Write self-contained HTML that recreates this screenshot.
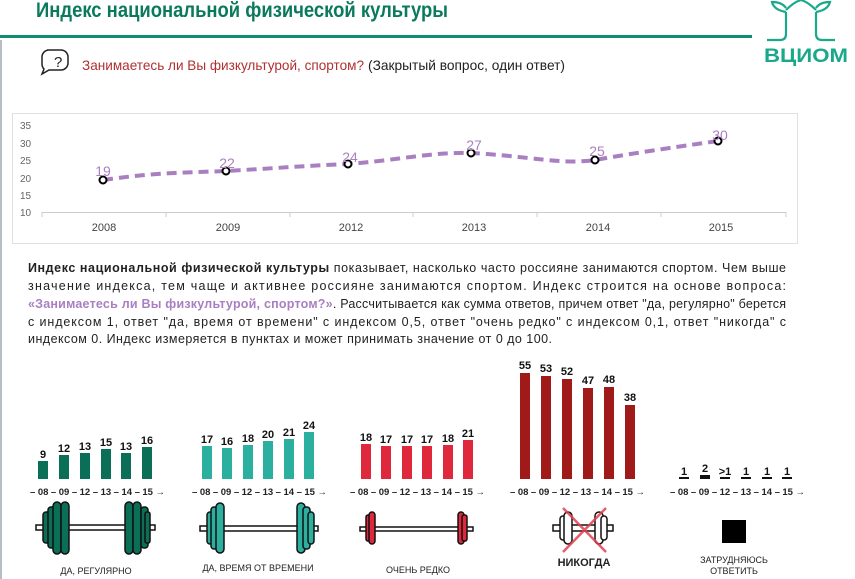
<!DOCTYPE html>
<html><head><meta charset="utf-8"><style>
body{margin:0;background:#fff;width:855px;height:579px;overflow:hidden}
svg{display:block}
text{font-family:"Liberation Sans",sans-serif}
</style></head><body>
<svg width="855" height="579" viewBox="0 0 855 579" xmlns="http://www.w3.org/2000/svg">
<rect x="0" y="40" width="2" height="539" fill="#b8bec6"/>
<text x="36" y="17" font-size="21" font-weight="bold" fill="#0b7a5c" textLength="412" lengthAdjust="spacingAndGlyphs">Индекс национальной физической культуры</text>
<rect x="0" y="35" width="752" height="3" fill="#0f8c72"/>
<!-- logo -->
<g fill="none" stroke="#1aa88a" stroke-width="2.2">
<path d="M786 12 v22 q0 6 -6 6 h-13 M816 12 v22 q0 6 6 6 h13"/>
<path d="M786 12 q-12 -2 -14 -10 q10 0 14 6 M816 12 q12 -2 14 -10 q-10 0 -14 6"/>
<path d="M786 10 q8 -8 15 -10 M816 10 q-8 -8 -15 -10"/>
</g>
<text x="764" y="62" font-size="19" font-weight="bold" fill="#1aa88a" textLength="84" lengthAdjust="spacingAndGlyphs">ВЦИОМ</text>
<!-- question -->
<path d="M47 50 h14 a7 7 0 0 1 7 7 v6 a7 7 0 0 1 -7 7 h-12 l-7 4 l2 -5 a7 7 0 0 1 -2 -5 v-7 a7 7 0 0 1 7 -7z" fill="none" stroke="#222" stroke-width="1.5"/>
<text x="54" y="67" font-size="15" fill="#222">?</text>
<text x="82" y="70" font-size="14" fill="#b03030" textLength="282" lengthAdjust="spacingAndGlyphs">Занимаетесь ли Вы физкультурой, спортом?</text>
<text x="368" y="70" font-size="14" fill="#222" textLength="197" lengthAdjust="spacingAndGlyphs">(Закрытый вопрос, один ответ)</text>
<!-- line chart -->
<rect x="12.5" y="113.5" width="785" height="130" fill="none" stroke="#dde1e5"/>
<g font-size="10" fill="#666">
<text x="20" y="129">35</text><text x="20" y="147">30</text><text x="20" y="164">25</text><text x="20" y="182">20</text><text x="20" y="199">15</text><text x="20" y="216">10</text>
</g>
<line x1="42" y1="212.5" x2="786" y2="212.5" stroke="#ccc"/>
<g stroke="#ccc"><line x1="42" y1="212" x2="42" y2="217"/><line x1="166" y1="212" x2="166" y2="217"/><line x1="290" y1="212" x2="290" y2="217"/><line x1="413" y1="212" x2="413" y2="217"/><line x1="537" y1="212" x2="537" y2="217"/><line x1="661" y1="212" x2="661" y2="217"/><line x1="786" y1="212" x2="786" y2="217"/></g>
<g font-size="11" fill="#444" text-anchor="middle">
<text x="104" y="231">2008</text><text x="228" y="231">2009</text><text x="351" y="231">2012</text><text x="474" y="231">2013</text><text x="598" y="231">2014</text><text x="721" y="231">2015</text>
</g>
<path d="M103 180 C160 172 180 173 226 171 C280 168 300 166 348 164 C400 160 430 152 471 153 C530 156 560 165 595 160 C640 152 690 145 718 141" fill="none" stroke="#a97fc2" stroke-width="4" stroke-dasharray="10 6"/>
<g fill="#fff" stroke="#000" stroke-width="2">
<circle cx="103" cy="180" r="3.5"/><circle cx="226" cy="171" r="3.5"/><circle cx="348" cy="164" r="3.5"/><circle cx="471" cy="153" r="3.5"/><circle cx="595" cy="160" r="3.5"/><circle cx="718" cy="141" r="3.5"/>
</g>
<g font-size="14" fill="#a97fc2" text-anchor="middle">
<text x="103" y="176">19</text><text x="227" y="168">22</text><text x="350" y="162">24</text><text x="474" y="150">27</text><text x="597" y="156">25</text><text x="720" y="140">30</text>
</g>
<!-- paragraph -->
<g font-size="12.5" fill="#222">
<text x="28" y="272" textLength="758" lengthAdjust="spacing"><tspan font-weight="bold">Индекс национальной физической культуры</tspan> показывает, насколько часто россияне занимаются спортом. Чем выше</text>
<text x="28" y="290" textLength="758" lengthAdjust="spacing">значение индекса, тем чаще и активнее россияне занимаются спортом. Индекс строится на основе вопроса:</text>
<text x="28" y="308" textLength="758" lengthAdjust="spacing"><tspan fill="#a97fc2" font-weight="bold">«Занимаетесь ли Вы физкультурой, спортом?»</tspan>. Рассчитывается как сумма ответов, причем ответ "да, регулярно" берется</text>
<text x="28" y="326" textLength="758" lengthAdjust="spacing">с индексом 1, ответ "да, время от времени" с индексом 0,5, ответ "очень редко" с индексом 0,1, ответ "никогда" с</text>
<text x="28" y="343" textLength="524" lengthAdjust="spacing">индексом 0. Индекс измеряется в пунктах и может принимать значение от 0 до 100.</text>
</g>
<!-- bars -->
<g fill="#0b6e57"><rect x="38" y="461" width="10" height="18"/><rect x="59" y="455" width="10" height="24"/><rect x="80" y="453" width="10" height="26"/><rect x="101" y="449" width="10" height="30"/><rect x="121" y="453" width="10" height="26"/><rect x="142" y="447" width="10" height="32"/></g>
<g fill="#2bb0a0"><rect x="202" y="446" width="10" height="33"/><rect x="222" y="448" width="10" height="31"/><rect x="243" y="445" width="10" height="34"/><rect x="263" y="441" width="10" height="38"/><rect x="284" y="439" width="10" height="40"/><rect x="304" y="432" width="10" height="47"/></g>
<g fill="#e0283c"><rect x="361" y="444" width="10" height="35"/><rect x="381" y="446" width="10" height="33"/><rect x="402" y="446" width="10" height="33"/><rect x="422" y="446" width="10" height="33"/><rect x="443" y="445" width="10" height="34"/><rect x="463" y="440" width="10" height="39"/></g>
<g fill="#a01a1a"><rect x="520" y="373" width="10" height="106"/><rect x="541" y="376" width="10" height="103"/><rect x="562" y="379" width="10" height="100"/><rect x="583" y="388" width="10" height="91"/><rect x="604" y="387" width="10" height="92"/><rect x="625" y="405" width="10" height="74"/></g>
<g fill="#111"><rect x="679" y="477" width="10" height="2"/><rect x="700" y="475" width="10" height="4"/><rect x="720" y="477" width="10" height="2"/><rect x="741" y="477" width="10" height="2"/><rect x="762" y="477" width="10" height="2"/><rect x="782" y="477" width="10" height="2"/></g>
<g font-size="11" font-weight="bold" fill="#111" text-anchor="middle">
<text x="43" y="458">9</text><text x="64" y="452">12</text><text x="85" y="450">13</text><text x="106" y="446">15</text><text x="126" y="450">13</text><text x="147" y="444">16</text>
<text x="207" y="443">17</text><text x="227" y="445">16</text><text x="248" y="442">18</text><text x="268" y="438">20</text><text x="289" y="436">21</text><text x="309" y="429">24</text>
<text x="366" y="441">18</text><text x="386" y="443">17</text><text x="407" y="443">17</text><text x="427" y="443">17</text><text x="448" y="442">18</text><text x="468" y="437">21</text>
<text x="525" y="369">55</text><text x="546" y="372">53</text><text x="567" y="375">52</text><text x="588" y="384">47</text><text x="609" y="383">48</text><text x="630" y="401">38</text>
<text x="684" y="475">1</text><text x="705" y="472">2</text><text x="725" y="475">&gt;1</text><text x="746" y="475">1</text><text x="767" y="475">1</text><text x="787" y="475">1</text>
</g>
<g font-size="9.5" font-weight="bold" fill="#222">
<text x="30" y="495" textLength="135" lengthAdjust="spacing">– 08 – 09 – 12 – 13 – 14 – 15 →</text>
<text x="192" y="495" textLength="135" lengthAdjust="spacing">– 08 – 09 – 12 – 13 – 14 – 15 →</text>
<text x="350" y="495" textLength="135" lengthAdjust="spacing">– 08 – 09 – 12 – 13 – 14 – 15 →</text>
<text x="510" y="495" textLength="135" lengthAdjust="spacing">– 08 – 09 – 12 – 13 – 14 – 15 →</text>
<text x="670" y="495" textLength="135" lengthAdjust="spacing">– 08 – 09 – 12 – 13 – 14 – 15 →</text>
</g>
<!-- dumbbells -->
<g stroke="#111" stroke-width="1.5">
<rect x="36" y="525" width="119" height="5" fill="#fff"/>
<rect x="43" y="512" width="8" height="31" rx="3" fill="#0b6e57"/><rect x="48" y="507" width="8" height="41" rx="3" fill="#0b6e57"/><rect x="53" y="502" width="8" height="52" rx="4" fill="#0b6e57"/><rect x="61" y="502" width="8" height="52" rx="4" fill="#0b6e57"/>
<rect x="125" y="502" width="8" height="52" rx="4" fill="#0b6e57"/><rect x="133" y="502" width="8" height="52" rx="4" fill="#0b6e57"/><rect x="141" y="507" width="7" height="41" rx="3" fill="#0b6e57"/><rect x="145" y="512" width="5" height="31" rx="2" fill="#0b6e57"/>
<rect x="200" y="526" width="118" height="5" fill="#fff"/>
<rect x="207" y="512" width="6" height="32" rx="3" fill="#2bb0a0"/><rect x="211" y="507" width="7" height="42" rx="3" fill="#2bb0a0"/><rect x="216" y="503" width="8" height="50" rx="4" fill="#2bb0a0"/>
<rect x="297" y="503" width="8" height="50" rx="4" fill="#2bb0a0"/><rect x="303" y="507" width="7" height="42" rx="3" fill="#2bb0a0"/><rect x="308" y="512" width="6" height="32" rx="3" fill="#2bb0a0"/>
<rect x="360" y="527" width="113" height="4" fill="#fff"/>
<rect x="366" y="515" width="5" height="26" rx="2" fill="#e0283c"/><rect x="369" y="512" width="6" height="32" rx="3" fill="#e0283c"/>
<rect x="458" y="512" width="6" height="32" rx="3" fill="#e0283c"/><rect x="462" y="515" width="5" height="26" rx="2" fill="#e0283c"/>
<rect x="553" y="525" width="60" height="6" fill="#fff"/>
<rect x="560" y="516" width="6" height="24" rx="3" fill="#fff"/><rect x="564" y="512" width="8" height="32" rx="4" fill="#fff"/>
<rect x="595" y="512" width="8" height="32" rx="4" fill="#fff"/><rect x="601" y="516" width="6" height="24" rx="3" fill="#fff"/>
</g>
<g stroke="#e04050" stroke-width="2.5" opacity="0.85"><line x1="563" y1="508" x2="606" y2="552"/><line x1="606" y1="508" x2="563" y2="552"/></g>
<rect x="722" y="520" width="24" height="23" fill="#000"/>
<g font-size="9" fill="#222" text-anchor="middle">
<text x="96" y="574">ДА, РЕГУЛЯРНО</text>
<text x="258" y="571">ДА, ВРЕМЯ ОТ ВРЕМЕНИ</text>
<text x="418" y="573">ОЧЕНЬ РЕДКО</text>
<text x="584" y="566" font-size="11" font-weight="bold">НИКОГДА</text>
<text x="734" y="563">ЗАТРУДНЯЮСЬ</text>
<text x="734" y="574">ОТВЕТИТЬ</text>
</g>
</svg>
</body></html>
